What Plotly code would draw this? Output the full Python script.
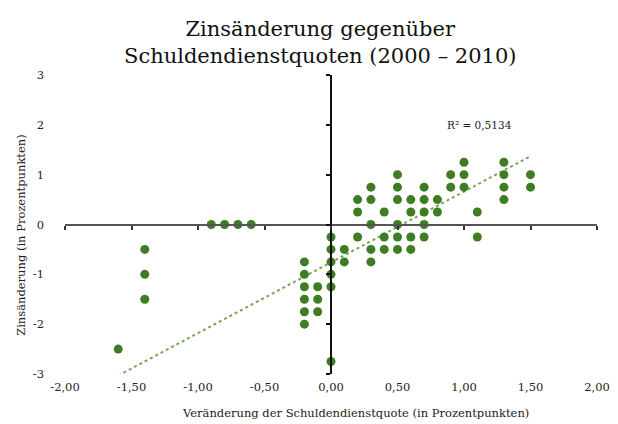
import numpy as np
import plotly.graph_objects as go

# Data: change in debt service ratio (x) vs. change in interest rate (y)
x_vals = [-1.6,
          -1.4, -1.4, -1.4,
          -0.9, -0.8, -0.7, -0.6,
          -0.2, -0.2, -0.2, -0.2, -0.2, -0.2,
          -0.1, -0.1, -0.1,
          0.0, 0.0, 0.0, 0.0, 0.0, 0.0,
          0.1, 0.1,
          0.2, 0.2, 0.2,
          0.3, 0.3, 0.3, 0.3, 0.3,
          0.4, 0.4, 0.4,
          0.5, 0.5, 0.5, 0.5, 0.5, 0.5,
          0.6, 0.6, 0.6, 0.6,
          0.7, 0.7, 0.7, 0.7, 0.7,
          0.8, 0.8,
          0.9, 0.9,
          1.0, 1.0, 1.0,
          1.1, 1.1,
          1.3, 1.3, 1.3, 1.3,
          1.5, 1.5]
y_vals = [-2.5,
          -0.5, -1.0, -1.5,
          0.0, 0.0, 0.0, 0.0,
          -0.75, -1.0, -1.25, -1.5, -1.75, -2.0,
          -1.25, -1.5, -1.75,
          -0.25, -0.5, -0.75, -1.0, -1.25, -2.75,
          -0.5, -0.75,
          0.5, 0.25, -0.25,
          0.75, 0.5, 0.0, -0.5, -0.75,
          0.25, -0.25, -0.5,
          1.0, 0.75, 0.5, 0.0, -0.25, -0.5,
          0.5, 0.25, -0.25, -0.5,
          0.75, 0.5, 0.25, 0.0, -0.25,
          0.5, 0.25,
          1.0, 0.75,
          1.25, 1.0, 0.75,
          0.25, -0.25,
          1.25, 1.0, 0.75, 0.5,
          1.0, 0.75]

# Linear trend line as shown in the chart
trend_slope = 1.42
trend_intercept = -0.76
trend_x_range = [-1.6, 1.5]

x_ticks = [-2.0, -1.5, -1.0, -0.5, 0.0, 0.5, 1.0, 1.5, 2.0]
x_tick_labels = ["-2,00", "-1,50", "-1,00", "-0,50", "0,00", "0,50", "1,00", "1,50", "2,00"]
y_ticks = [-3, -2, -1, 0, 1, 2, 3]
y_tick_labels = ["-3", "-2", "-1", "0", "1", "2", "3"]

title_text = "Zinsänderung gegenüber<br>Schuldendienstquoten (2000 – 2010)"
x_title = "Veränderung der Schuldendienstquote (in Prozentpunkten)"
y_title = "Zinsänderung (in Prozentpunkten)"
r2_label = "R² = 0,5134"

FONT = "DejaVu Serif"
GREEN = "#3f7d24"

tx = np.array(trend_x_range)
ty = trend_slope * tx + trend_intercept

fig = go.Figure()
fig.add_trace(go.Scatter(x=tx, y=ty, mode="lines",
                         line=dict(color="#78a656", width=2, dash="dot"),
                         hoverinfo="skip", showlegend=False))
fig.add_trace(go.Scatter(x=x_vals, y=y_vals, mode="markers",
                         marker=dict(color=GREEN, size=9),
                         showlegend=False))
# invisible trace on the crossing axes so they render
fig.add_trace(go.Scatter(x=[0], y=[0], xaxis="x2", yaxis="y2", mode="markers",
                         marker=dict(opacity=0), hoverinfo="skip", showlegend=False))

fig.update_layout(
    width=614, height=416,
    margin=dict(l=57, r=19, t=67, b=50),
    paper_bgcolor="white", plot_bgcolor="white",
    font=dict(family=FONT, color="#222222"),
    xaxis=dict(range=[-2, 2], tickvals=x_ticks, ticktext=x_tick_labels,
               showgrid=False, zeroline=False, showline=False, ticks="",
               tickfont=dict(size=11.5, color="#222222"), ticklabelstandoff=4),
    yaxis=dict(range=[-3, 3], tickvals=y_ticks, ticktext=y_tick_labels,
               showgrid=False, zeroline=False, showline=False, ticks="",
               tickfont=dict(size=11.5, color="#222222"), ticklabelstandoff=20),
    xaxis2=dict(range=[-2, 2], overlaying="x", anchor="free", position=0.5,
                tickvals=x_ticks, showticklabels=False, showgrid=False,
                zeroline=False, showline=True, linecolor="#555555", linewidth=2,
                ticks="outside", ticklen=4, tickwidth=1.5, tickcolor="#333333"),
    yaxis2=dict(range=[-3, 3], overlaying="y", anchor="free", position=0.5,
                tickvals=y_ticks, showticklabels=False, showgrid=False,
                zeroline=False, showline=True, linecolor="#111111", linewidth=2,
                ticks="outside", ticklen=4, tickwidth=1.5, tickcolor="#111111"),
    annotations=[
        dict(text=title_text, xref="paper", yref="paper", x=0.48, y=1.11,
             xanchor="center", yanchor="middle", showarrow=False,
             font=dict(family=FONT, size=21, color="#111111")),
        dict(text=x_title, xref="paper", yref="paper", x=0.546, y=-0.13,
             xanchor="center", yanchor="middle", showarrow=False,
             font=dict(family=FONT, size=11.5, color="#222222")),
        dict(text=y_title, xref="paper", yref="paper", x=-0.083, y=0.465,
             xanchor="center", yanchor="middle", showarrow=False, textangle=-90,
             font=dict(family=FONT, size=11.5, color="#222222")),
        dict(text=r2_label, xref="paper", yref="paper", x=0.779, y=0.832,
             xanchor="center", yanchor="middle", showarrow=False,
             font=dict(family=FONT, size=10.5, color="#222222")),
    ],
)

fig.write_html("out.html")
